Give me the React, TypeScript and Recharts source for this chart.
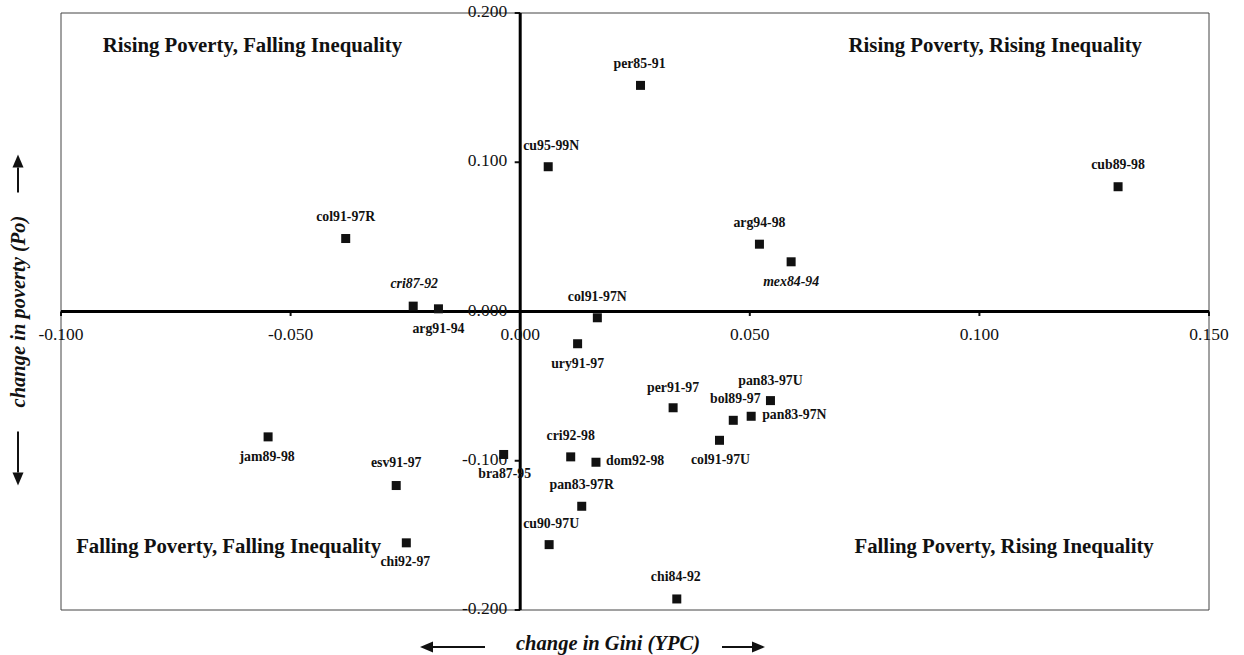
import React from "react";
import {
  ScatterChart, Scatter, XAxis, YAxis, ReferenceLine, ReferenceArea, ReferenceDot, Label,
} from "recharts";

// spells (country + period) and their changes
const spells = [
  "per85-91", "cu95-99N", "cub89-98", "col91-97R", "cri87-92", "arg91-94",
  "col91-97N", "ury91-97", "arg94-98", "mex84-94", "per91-97", "pan83-97U",
  "bol89-97", "pan83-97N", "col91-97U", "bra87-95", "cri92-98", "dom92-98",
  "pan83-97R", "cu90-97U", "chi84-92", "jam89-98", "esv91-97", "chi92-97",
];
const giniChange = [
  0.0262, 0.0061, 0.1302, -0.038, -0.0233, -0.0178,
  0.0168, 0.0125, 0.0521, 0.059, 0.0333, 0.0545,
  0.0464, 0.0503, 0.0434, -0.0036, 0.011, 0.0165,
  0.0134, 0.0063, 0.0341, -0.0549, -0.027, -0.0248,
];
const povertyChange = [
  0.1515, 0.097, 0.0836, 0.0489, 0.0036, 0.0018,
  -0.0042, -0.0216, 0.0451, 0.0333, -0.0645, -0.0597,
  -0.0729, -0.0702, -0.0863, -0.0958, -0.0974, -0.101,
  -0.1305, -0.1562, -0.1926, -0.084, -0.1166, -0.155,
];

const xTicks = [-0.1, -0.05, 0, 0.05, 0.1, 0.15];
const xTickLabels = ["-0.100", "-0.050", "0.000", "0.050", "0.100", "0.150"];
const yTicks = [0.2, 0.1, 0, -0.1, -0.2];
const yTickLabels = ["0.200", "0.100", "0.000", "-0.100", "-0.200"];

const quadrantTitles = [
  "Rising Poverty, Falling Inequality",
  "Rising Poverty, Rising Inequality",
  "Falling Poverty, Falling Inequality",
  "Falling Poverty, Rising Inequality",
];

const points = spells.map((name, i) => ({ name, x: giniChange[i], y: povertyChange[i] }));

// layout only: where each title starts, and how each point label sits next to its marker
const quadrantSpots = [
  { x: -0.0909, y: 0.1736 },
  { x: 0.0715, y: 0.1736 },
  { x: -0.0967, y: -0.1615 },
  { x: 0.0728, y: -0.1615 },
];

const labelPlacement: Record<string, { dx: number; dy: number; anchor?: string; italic?: boolean }> = {
  "per85-91": { dx: -1, dy: -21 },
  "cu95-99N": { dx: 3, dy: -20 },
  "cub89-98": { dx: 0, dy: -21 },
  "col91-97R": { dx: 0, dy: -21 },
  "cri87-92": { dx: 1, dy: -21, italic: true },
  "arg91-94": { dx: 0, dy: 21 },
  "col91-97N": { dx: 0, dy: -20 },
  "ury91-97": { dx: 0, dy: 21 },
  "arg94-98": { dx: 0, dy: -20 },
  "mex84-94": { dx: 0, dy: 21, italic: true },
  "per91-97": { dx: 0, dy: -19 },
  "pan83-97U": { dx: 0, dy: -19 },
  "bol89-97": { dx: 2, dy: -20 },
  "pan83-97N": { dx: 11, dy: 0, anchor: "start" },
  "col91-97U": { dx: 1, dy: 21 },
  "bra87-95": { dx: 1, dy: 20 },
  "cri92-98": { dx: 0, dy: -20 },
  "dom92-98": { dx: 10, dy: 0, anchor: "start" },
  "pan83-97R": { dx: 0, dy: -20 },
  "cu90-97U": { dx: 2, dy: -20 },
  "chi84-92": { dx: -1, dy: -21 },
  "jam89-98": { dx: -1, dy: 21 },
  "esv91-97": { dx: 0, dy: -22 },
  "chi92-97": { dx: -1, dy: 20 },
};

const SERIF = '"Liberation Serif", "Times New Roman", serif';

const renderPoint = (props: any) => {
  const { cx, cy, payload } = props;
  const p = labelPlacement[payload.name] || { dx: 0, dy: -20 };
  return (
    <g>
      <rect x={cx - 4.5} y={cy - 4.5} width={9} height={9} fill="#111" />
      <text
        x={cx + p.dx}
        y={cy + p.dy}
        textAnchor={p.anchor || "middle"}
        dominantBaseline="middle"
        fontFamily={SERIF}
        fontWeight="bold"
        fontStyle={p.italic ? "italic" : "normal"}
        fontSize={13.8}
        fill="#111"
      >
        {payload.name}
      </text>
    </g>
  );
};

const XTitle = ({ viewBox }: any) => {
  const cx = viewBox.x + viewBox.width / 2 - 27;
  const y = viewBox.y + 37;
  return (
    <g>
      <line x1={cx - 123} y1={y} x2={cx - 175} y2={y} stroke="#111" strokeWidth={2} />
      <polygon points={`${cx - 188},${y} ${cx - 175},${y - 5.5} ${cx - 175},${y + 5.5}`} fill="#111" />
      <text x={cx} y={y - 2} textAnchor="middle" dominantBaseline="middle" fontFamily={SERIF}
        fontWeight="bold" fontStyle="italic" fontSize={20.5} fill="#111">
        change in Gini (YPC)
      </text>
      <line x1={cx + 114} y1={y} x2={cx + 145} y2={y} stroke="#111" strokeWidth={2} />
      <polygon points={`${cx + 157},${y} ${cx + 144},${y - 5.5} ${cx + 144},${y + 5.5}`} fill="#111" />
    </g>
  );
};

const YTitle = ({ viewBox }: any) => {
  const cy = viewBox.y + viewBox.height / 2;
  const x = 18;
  return (
    <g>
      <line x1={x} y1={cy - 119} x2={x} y2={cy - 144} stroke="#111" strokeWidth={2} />
      <polygon points={`${x},${cy - 157} ${x - 5.5},${cy - 144} ${x + 5.5},${cy - 144}`} fill="#111" />
      <text x={20} y={cy} transform={`rotate(-90, 20, ${cy})`} textAnchor="middle" dominantBaseline="middle"
        fontFamily={SERIF} fontWeight="bold" fontStyle="italic" fontSize={20.5} fill="#111">
        change in poverty (Po)
      </text>
      <line x1={x} y1={cy + 120} x2={x} y2={cy + 161} stroke="#111" strokeWidth={2} />
      <polygon points={`${x},${cy + 174} ${x - 5.5},${cy + 161} ${x + 5.5},${cy + 161}`} fill="#111" />
    </g>
  );
};

export default function App() {
  return (
    <div style={{ position: "absolute", left: 0, top: 0, background: "#fff" }}>
      <ScatterChart width={1244} height={655} margin={{ top: 13, right: 35, bottom: 0, left: 0 }}>
        <XAxis type="number" dataKey="x" domain={[-0.1, 0.15]} allowDataOverflow
          axisLine={false} tickLine={false} tick={false} height={45}>
          <Label content={<XTitle />} />
        </XAxis>
        <YAxis type="number" dataKey="y" domain={[-0.2, 0.2]} allowDataOverflow
          axisLine={false} tickLine={false} tick={false} width={61}>
          <Label content={<YTitle />} />
        </YAxis>

        <ReferenceArea x1={-0.1} x2={0.15} y1={-0.2} y2={0.2} fill="none" stroke="#444" strokeWidth={1} ifOverflow="visible" />

        {quadrantTitles.map((t, i) => (
          <ReferenceDot key={t} x={quadrantSpots[i].x} y={quadrantSpots[i].y} r={0} ifOverflow="visible"
            shape={(p: any) => (
              <text x={p.cx} y={p.cy} fontFamily={SERIF} fontWeight="bold" fontSize={20.8} fill="#111">{t}</text>
            )} />
        ))}

        {xTicks.filter((t) => t !== 0).map((t) => (
          <ReferenceLine key={`xm${t}`} segment={[{ x: t, y: 0 }, { x: t, y: -0.003 }]} stroke="#111" strokeWidth={2} ifOverflow="visible" />
        ))}
        {yTicks.filter((t) => t !== 0).map((t) => (
          <ReferenceLine key={`ym${t}`} segment={[{ x: -0.0012, y: t }, { x: 0, y: t }]} stroke="#111" strokeWidth={2} ifOverflow="visible" />
        ))}

        {xTicks.map((t, i) => (
          <ReferenceDot key={`xl${t}`} x={t} y={0} r={0} ifOverflow="visible"
            shape={(p: any) => (
              <text x={p.cx} y={p.cy + 24} textAnchor="middle" dominantBaseline="middle"
                fontFamily={SERIF} fontSize={17.5} fill="#111">{xTickLabels[i]}</text>
            )} />
        ))}
        {yTicks.map((t, i) => (
          <ReferenceDot key={`yl${t}`} x={0} y={t} r={0} ifOverflow="visible"
            shape={(p: any) => (
              <text x={p.cx - 13} y={p.cy} textAnchor="end" dominantBaseline="middle"
                fontFamily={SERIF} fontSize={17.5} fill="#111">{yTickLabels[i]}</text>
            )} />
        ))}

        <Scatter data={points} isAnimationActive={false} shape={renderPoint} />

        <ReferenceLine x={0} stroke="#000" strokeWidth={3} />
        <ReferenceLine y={0} stroke="#000" strokeWidth={3} />
      </ScatterChart>
    </div>
  );
}
